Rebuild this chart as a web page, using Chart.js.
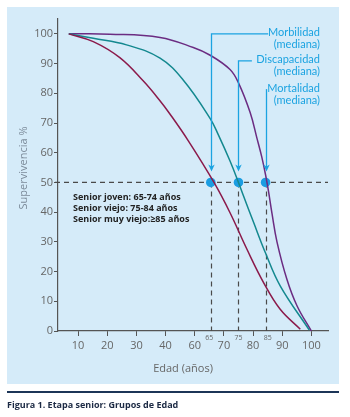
<!DOCTYPE html>
<html>
<head>
<meta charset="utf-8">
<script src="https://cdn.jsdelivr.net/npm/chart.js@4.4.1/dist/chart.umd.min.js"></script>
<style>
  html, body { margin: 0; padding: 0; background: #fff; }
</style>
</head>
<body>
<canvas id="chart" width="350" height="417"></canvas>
<script>
// x values are axis positions: the printed axis skips 50, so 60..100 sit at 50..90
const xTickPos = [10, 20, 30, 40, 50, 60, 70, 80, 90];
const xTickLabels = ["10", "20", "30", "40", "60", "70", "80", "90", "100"];
const yTicks = [0, 10, 20, 30, 40, 50, 60, 70, 80, 90, 100];

// Morbilidad curve (granate)
const morbX = [6.8, 15.2, 24.3, 32.3, 38.0, 41.3, 47.8, 56.6, 62.1, 67.9, 73.6, 79.3, 86.2];
const morbY = [100, 97.4, 92.0, 84.2, 77.6, 73.3, 64.0, 50.0, 39.8, 27.5, 16.3, 7.3, 0.6];
// Discapacidad curve (verde azulado)
const discX = [6.8, 15.2, 26.6, 38.1, 46.1, 55.3, 58.1, 62.1, 65.0, 66.7, 70.2, 74.2, 79.3, 89.3];
const discY = [100, 98.5, 96.3, 91.8, 84.4, 71.5, 66.0, 57.2, 50.0, 45.5, 36.5, 26.4, 15.2, 0.3];
// Mortalidad curve (morado)
const mortX = [6.8, 20.9, 38.1, 49.5, 55.3, 62.1, 65.0, 69.0, 71.3, 73.0, 74.3, 75.3, 76.5, 78.2, 81.6, 85.1, 90.0];
const mortY = [100, 99.9, 98.8, 95.4, 92.8, 88.0, 83.5, 73.5, 65.0, 58.5, 52.5, 47.0, 39.5, 30.0, 17.4, 8.4, 0];

// medians (50% survival) and the ages marked under the axis
const medianX = [55.5, 65.0, 74.3];
const medianY = [50, 50, 50];
const medianAgeLabels = ["65", "75", "85"];
const medianAgePos = [55, 65, 75];
const medianNames = ["Morbilidad", "Discapacidad", "Mortalidad"];
const calloutTopY = [100, 90.9, 81.4];
const calloutEndX = [75.2, 69.6, null];

const groupLines = ["Senior joven: 65-74 años", "Senior viejo: 75-84 años", "Senior muy viejo:\u226585 años"];

const BLUE = "#1ba3e1";
const pts = (xs, ys) => xs.map((x, i) => ({ x: x, y: ys[i] }));

const decor = {
  id: "decor",
  beforeDraw(chart) {
    const c = chart.ctx;
    c.save();
    c.fillStyle = "#fff";
    c.fillRect(0, 0, chart.width, chart.height);
    c.fillStyle = "#d5ebf9";
    c.fillRect(7, 7, 332, 377);
    c.fillStyle = "#1c3557";
    c.fillRect(7, 391, 332, 2);
    c.fillStyle = "#1c2a44";
    c.font = "bold 9px 'Open Sans'";
    c.textBaseline = "middle";
    c.fillText("Figura 1. Etapa senior: Grupos de Edad", 7, 405);
    c.restore();
  },
  beforeDatasetsDraw(chart) {
    const c = chart.ctx, xs = chart.scales.x, ys = chart.scales.y, a = chart.chartArea;
    const y50 = ys.getPixelForValue(50);
    c.save();
    c.strokeStyle = "#4a4a4a";
    c.lineWidth = 1.2;
    c.setLineDash([5, 4]);
    c.beginPath();
    c.moveTo(a.left - 3, y50);
    c.lineTo(a.right, y50);
    medianX.forEach(m => {
      const px = Math.round(xs.getPixelForValue(m)) + 0.5;
      c.moveTo(px, y50);
      c.lineTo(px, a.bottom);
    });
    c.stroke();
    c.restore();
  },
  afterDatasetsDraw(chart) {
    const c = chart.ctx, xs = chart.scales.x, ys = chart.scales.y;
    c.save();
    // callouts with arrows
    c.strokeStyle = BLUE;
    c.fillStyle = BLUE;
    c.lineWidth = 1.3;
    const tip = ys.getPixelForValue(50) - 11;
    medianX.forEach((m, i) => {
      const px = Math.round(xs.getPixelForValue(m)) + 0.5;
      const top = ys.getPixelForValue(calloutTopY[i]);
      c.beginPath();
      if (calloutEndX[i] !== null) {
        c.moveTo(xs.getPixelForValue(calloutEndX[i]), top);
        c.lineTo(px, top);
      } else {
        c.moveTo(px, top);
      }
      c.lineTo(px, tip - 4);
      c.stroke();
      c.beginPath();
      c.moveTo(px, tip);
      c.lineTo(px - 3.2, tip - 7);
      c.lineTo(px, tip - 5);
      c.lineTo(px + 3.2, tip - 7);
      c.closePath();
      c.fill();
    });
    // callout labels
    c.font = "11px Lato";
    c.textAlign = "right";
    c.textBaseline = "middle";
    medianNames.forEach((n, i) => {
      const top = ys.getPixelForValue(calloutTopY[i]);
      c.fillText(n, 320, top - 1);
      c.fillText("(mediana)", 320, top + 11);
    });
    // age groups
    c.fillStyle = "#222";
    c.font = "bold 9px 'Open Sans'";
    c.textAlign = "left";
    groupLines.forEach((t, i) => c.fillText(t, 73, 197 + i * 11.3));
    // small ages under the axis
    c.fillStyle = "#666";
    c.font = "7px 'Open Sans'";
    c.textAlign = "center";
    medianAgePos.forEach((m, i) => c.fillText(medianAgeLabels[i], xs.getPixelForValue(m), 338));
    // axis titles
    c.fillStyle = "#666";
    c.font = "11px 'Open Sans'";
    c.fillText("Edad (años)", 183, 369);
    c.translate(24, 168);
    c.rotate(-Math.PI / 2);
    c.fillStyle = "#7b8a99";
    c.fillText("Supervivencia %", 0, 0);
    c.restore();
  }
};

const curve = (data, color) => ({
  type: "line", data: data, borderColor: color, borderWidth: 1.5,
  pointRadius: 0, fill: false, tension: 0.4
});

new Chart(document.getElementById("chart"), {
  type: "line",
  data: {
    datasets: [
      curve(pts(morbX, morbY), "#8b1a4b"),
      curve(pts(discX, discY), "#13888f"),
      curve(pts(mortX, mortY), "#6b2c82"),
      {
        type: "scatter", data: pts(medianX, medianY),
        pointRadius: 4.8, pointBackgroundColor: "#1b9de2", pointBorderWidth: 0
      }
    ]
  },
  options: {
    responsive: false,
    animation: false,
    layout: { padding: { top: 19, right: 22, bottom: 36, left: 0 } },
    plugins: { legend: { display: false }, tooltip: { enabled: false } },
    scales: {
      x: {
        type: "linear", min: 3.1, max: 95.7,
        afterBuildTicks: s => { s.ticks = xTickPos.map(v => ({ value: v })); },
        afterFit: s => { s.height = 50; },
        grid: { drawOnChartArea: false, tickLength: 5, color: "#555" },
        border: { color: "#555", width: 1.2 },
        ticks: { color: "#666", font: { family: "Open Sans", size: 11 }, padding: 3,
                 maxRotation: 0, callback: (v, i) => xTickLabels[i] }
      },
      y: {
        min: 0, max: 105,
        afterBuildTicks: s => { s.ticks = yTicks.map(v => ({ value: v })); },
        afterFit: s => { s.width = 58; },
        grid: { drawOnChartArea: false, tickLength: 4, color: "#555" },
        border: { color: "#555", width: 1.2 },
        ticks: { color: "#666", font: { family: "Open Sans", size: 11 }, padding: 1 }
      }
    }
  },
  plugins: [decor]
});
</script>
</body>
</html>
